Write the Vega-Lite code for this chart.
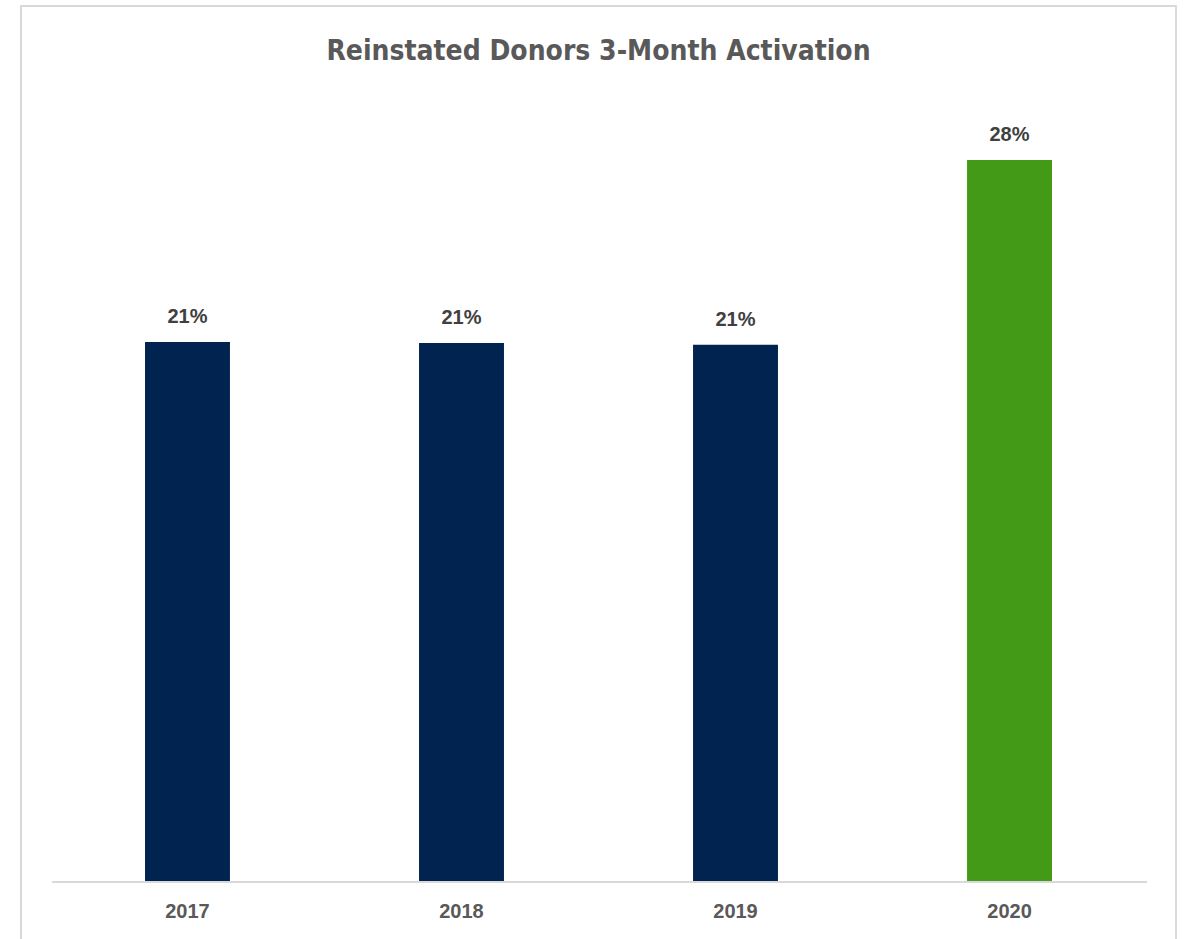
{
  "$schema": "https://vega.github.io/schema/vega-lite/v6.json",
  "autosize": {"type": "none"},
  "padding": {"left": 21, "top": 6, "right": 9, "bottom": 0},
  "width": 1155,
  "height": 934,
  "background": "white",
  "config": {"view": {"stroke": "#d9d9d9", "strokeWidth": 2}},
  "title": {
    "text": "Reinstated Donors 3-Month Activation",
    "font": "'DejaVu Sans Condensed', 'Roboto Condensed', Roboto, sans-serif",
    "fontSize": 28,
    "fontWeight": "bold",
    "color": "#595959",
    "anchor": "middle",
    "baseline": "alphabetic",
    "offset": -82
  },
  "data": {
    "values": [
      {"year": "2017", "rate": 0.2094, "group": "past"},
      {"year": "2018", "rate": 0.2090, "group": "past"},
      {"year": "2019", "rate": 0.2083, "group": "past"},
      {"year": "2020", "rate": 0.2800, "group": "current"}
    ]
  },
  "layer": [
    {
      "mark": {"type": "bar"},
      "encoding": {
        "x": {
          "field": "year",
          "type": "ordinal",
          "scale": {"paddingInner": 0.69, "paddingOuter": 0.4526},
          "axis": {
            "title": null,
            "domain": false,
            "ticks": false,
            "labelAngle": 0,
            "labelFont": "Liberation Sans",
            "labelFontWeight": "bold",
            "labelFontSize": 20,
            "labelColor": "#595959",
            "labelPadding": 19,
            "offset": -58
          }
        },
        "y": {
          "field": "rate",
          "type": "quantitative",
          "scale": {"domain": [-0.0225, 0.3397], "nice": false, "zero": false},
          "axis": null
        },
        "y2": {"datum": 0},
        "color": {
          "field": "group",
          "type": "nominal",
          "scale": {"domain": ["past", "current"], "range": ["#002350", "#439A17"]},
          "legend": null
        }
      }
    },
    {
      "mark": {
        "type": "text",
        "dy": -19,
        "baseline": "alphabetic",
        "font": "Liberation Sans",
        "fontWeight": "bold",
        "fontSize": 20,
        "color": "#404040"
      },
      "encoding": {
        "x": {"field": "year", "type": "ordinal"},
        "y": {"field": "rate", "type": "quantitative"},
        "text": {"field": "rate", "type": "quantitative", "format": ".0%"}
      }
    },
    {
      "mark": {"type": "rule", "color": "#d9d9d9", "strokeWidth": 2},
      "encoding": {
        "x": {"datum": "2017", "type": "ordinal", "bandPosition": -1.094},
        "x2": {"datum": "2020", "bandPosition": 2.118},
        "y": {"datum": 0, "type": "quantitative"}
      }
    }
  ]
}
